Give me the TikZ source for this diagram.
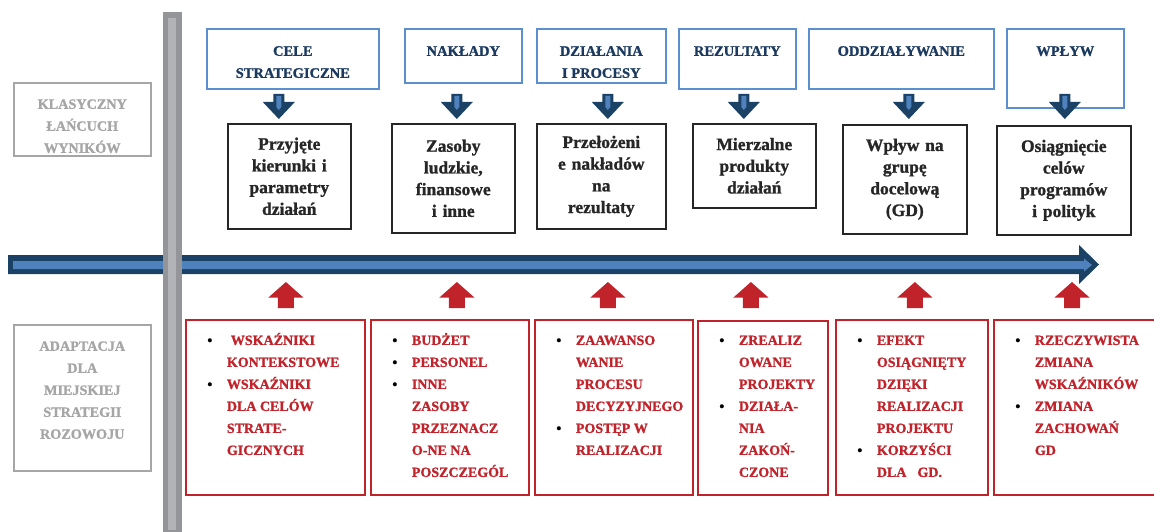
\documentclass[tikz,border=0pt]{standalone}
\usepackage{fontspec}
\setmainfont{Liberation Serif}[BoldFeatures={FakeBold=1.2}]
\usepackage{xcolor}
\usetikzlibrary{calc}
\definecolor{hdrblue}{HTML}{5B8FD0}
\definecolor{hdrnavy}{HTML}{1C3A60}
\definecolor{arrowdark}{HTML}{1B4265}
\definecolor{arrowlight}{HTML}{4F81BD}
\definecolor{chainred}{HTML}{C1232B}
\definecolor{sidegray}{HTML}{A6A6A6}
\definecolor{boxblack}{HTML}{262626}
\definecolor{barouter}{HTML}{939598}
\definecolor{barinner}{HTML}{B1B3B6}
\newcommand{\topbox}[4]{\parbox[c][#2][t]{#1}{\vspace*{#3}#4}}
\newcommand{\chainitem}[1]{\par\noindent\hangindent=41pt\hangafter=1\hspace*{21.5pt}\makebox[19.5pt][l]{\strut\textcolor{black}{\textbullet}}#1}

\begin{document}
\begin{tikzpicture}[x=1pt,y=-1pt,
 hdrbox/.style={draw=hdrblue,line width=1.6pt,inner sep=0pt,anchor=north west,text=hdrnavy,font=\fontsize{14.5}{22}\selectfont\bfseries},
 resbox/.style={draw=boxblack,line width=1.6pt,inner sep=0pt,anchor=north west,align=center,text=boxblack,font=\fontsize{17.5}{21.7}\selectfont\bfseries},
 adbox/.style={draw=chainred,line width=1.8pt,inner sep=0pt,anchor=north west,text=chainred,font=\fontsize{14}{22}\selectfont\bfseries},
 sidebox/.style={draw=sidegray,line width=1.6pt,inner sep=0pt,anchor=north west,text=sidegray,font=\fontsize{14.2}{22}\selectfont\bfseries},
 downarr/.pic={\fill[arrowdark] (-5.5,-25) -- (5.5,-25) -- (5.5,-17) -- (16,-17) -- (0,0) -- (-16,-17) -- (-5.5,-17) -- cycle;
  \fill[arrowlight] (-2.5,-23) -- (2.5,-23) -- (2.5,-12) -- (0,-9) -- (-2.5,-12) -- cycle;},
 uparr/.pic={\fill[chainred] (-8,0) -- (8,0) -- (8,-10.5) -- (17.5,-10.5) -- (0,-26) -- (-17.5,-10.5) -- (-8,-10.5) -- cycle;}]
\useasboundingbox (0,0) rectangle (1154,532);
% timeline and divider
\fill[arrowdark] (8,255) -- (1079,255) -- (1079,245) -- (1099,264.5) -- (1079,284) -- (1079,274) -- (8,274) -- cycle;
\fill[arrowlight] (13,261) -- (1084,261) -- (1084,258.5) -- (1092,265) -- (1084,271.5) -- (1084,269) -- (13,269) -- cycle;
\fill[barouter] (163,12) rectangle (182,532);
\fill[barinner] (168,18) rectangle (176,530);
% row labels
\node[sidebox] (klasyczny) at (13,82) {\topbox{137pt}{73pt}{10.6pt}{\centering\strut KLASYCZNY\\ŁAŃCUCH\\WYNIKÓW}};
\node[sidebox] (adaptacja) at (13,324) {\topbox{137pt}{146pt}{10.6pt}{\centering\strut ADAPTACJA\\DLA\\MIEJSKIEJ\\STRATEGII\\ROZOWOJU}};
% chain headers
\node[hdrbox] (cele) at (206,28) {\topbox{172pt}{60pt}{11.6pt}{\centering\strut CELE\\STRATEGICZNE}};
\node[hdrbox] (naklady) at (404,28) {\topbox{117pt}{54pt}{11.6pt}{\centering\strut NAKŁADY}};
\node[hdrbox] (dzialania) at (536,28) {\topbox{129pt}{54pt}{11.6pt}{\centering\strut DZIAŁANIA\\I PROCESY}};
\node[hdrbox] (rezultaty) at (678,28) {\topbox{117pt}{60pt}{11.6pt}{\centering\strut REZULTATY}};
\node[hdrbox] (oddzialywanie) at (808,28) {\topbox{185pt}{60pt}{11.6pt}{\centering\strut ODDZIAŁYWANIE}};
\node[hdrbox] (wplyw) at (1006,28) {\topbox{117pt}{79pt}{11.6pt}{\centering\strut WPŁYW}};
% classic results
\node[resbox,text width=123pt,minimum height=105pt] (przyjete) at (227,123) {Przyjęte\\kierunki i\\parametry\\działań};
\node[resbox,text width=123pt,minimum height=109pt] (zasoby) at (391,123) {Zasoby\\ludzkie,\\finansowe\\i inne};
\node[resbox,text width=129pt,minimum height=105pt] (przelozenie) at (536,123) {Przełożeni\\e nakładów\\na\\rezultaty};
\node[resbox,text width=123pt,minimum height=84pt] (mierzalne) at (692,123) {Mierzalne\\produkty\\działań};
\node[resbox,text width=124pt,minimum height=109pt] (grupa) at (842,124) {Wpływ na\\grupę\\docelową\\(GD)};
\node[resbox,text width=134pt,minimum height=109pt] (osiagniecie) at (996,125) {Osiągnięcie\\celów\\programów\\i polityk};
\pic at ($(przyjete.north)+(-10.5,-4)$) {downarr};
\pic at ($(zasoby.north)+(3.5,-4)$) {downarr};
\pic at ($(przelozenie.north)+(6.5,-4)$) {downarr};
\pic at ($(mierzalne.north)+(-10.5,-4)$) {downarr};
\pic at ($(grupa.north)+(4,-5)$) {downarr};
\pic at ($(osiagniecie.north)+(1,-6)$) {downarr};
% adapted indicators
\node[adbox] (kontekst) at (185,319) {\topbox{179pt}{175pt}{9.6pt}{\chainitem{\hspace*{4pt}WSKAŹNIKI\newline KONTEKSTOWE}\chainitem{WSKAŹNIKI\newline DLA CELÓW\newline STRATE-\newline GICZNYCH}}};
\node[adbox] (budzet) at (370,319) {\topbox{158pt}{175pt}{9.6pt}{\chainitem{BUDŻET}\chainitem{PERSONEL}\chainitem{INNE\newline ZASOBY\newline PRZEZNACZ\newline O-NE NA\newline POSZCZEGÓL}}};
\node[adbox] (proces) at (534,319) {\topbox{158pt}{175pt}{9.6pt}{\chainitem{ZAAWANSO\newline WANIE\newline PROCESU\newline DECYZYJNEGO}\chainitem{POSTĘP W\newline REALIZACJI}}};
\node[adbox] (projekty) at (697,320) {\topbox{130pt}{174pt}{8.6pt}{\chainitem{ZREALIZ\newline OWANE\newline PROJEKTY}\chainitem{DZIAŁA-\newline NIA\newline ZAKOŃ-\newline CZONE}}};
\node[adbox] (efekt) at (835,319) {\topbox{152pt}{175pt}{9.6pt}{\chainitem{EFEKT\newline OSIĄGNIĘTY\newline DZIĘKI\newline REALIZACJI\newline PROJEKTU}\chainitem{KORZYŚCI\newline DLA\hspace{11pt}GD.}}};
\node[adbox] (zmiana) at (993,319) {\topbox{167pt}{175pt}{9.6pt}{\chainitem{RZECZYWISTA\newline ZMIANA\newline WSKAŹNIKÓW}\chainitem{ZMIANA\newline ZACHOWAŃ\newline GD}}};
\pic at ($(kontekst.north)+(10.5,-11)$) {uparr};
\pic at ($(budzet.north)+(7,-11)$) {uparr};
\pic at ($(proces.north)+(-6,-11)$) {uparr};
\pic at ($(projekty.north)+(-12,-12)$) {uparr};
\pic at ($(efekt.north)+(3,-11)$) {uparr};
\pic at ($(zmiana.north west)+(79,-11)$) {uparr};
\end{tikzpicture}
\end{document}
